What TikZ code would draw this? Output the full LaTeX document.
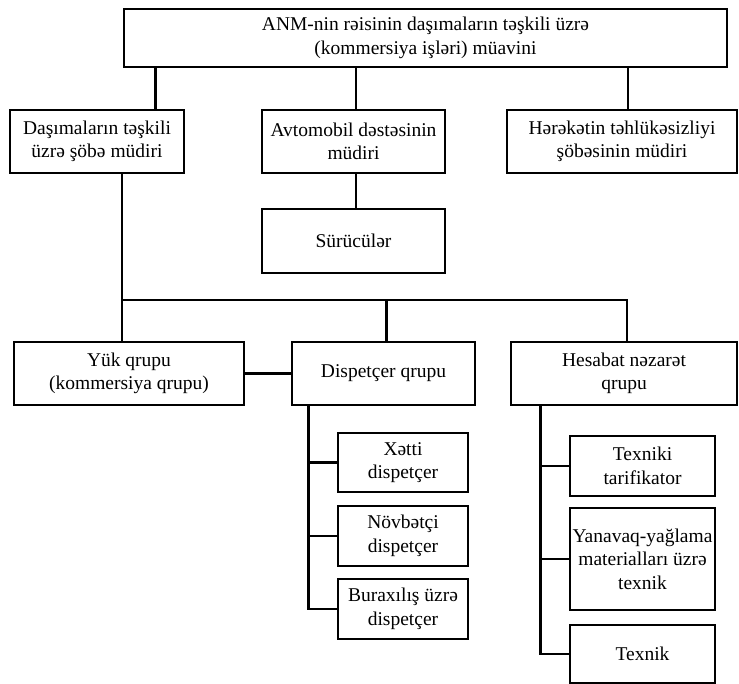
\documentclass[tikz,border=0pt]{standalone}
\usepackage{fontspec}
\setmainfont{Liberation Serif}
\newfontfamily\boxfont{Liberation Serif}
\begin{document}
\begin{tikzpicture}[x=1pt,y=-1pt,
  box/.style={draw, line width=2.2pt, align=center, inner sep=0pt, font=\boxfont\fontsize{19.5}{23.5}\selectfont},
  conn/.style={line width=2.2pt}]
\useasboundingbox (0,0) rectangle (739,684);
% boxes
\node[box, minimum width=603pt, minimum height=58pt] (top) at (425.5,38) {ANM-nin rəisinin daşımaların təşkili üzrə\\(kommersiya işləri) müavini};
\node[box, minimum width=174pt, minimum height=63pt] (dasi) at (97,141.5) {Daşımaların təşkili\\üzrə şöbə müdiri};
\node[box, minimum width=183pt, minimum height=63pt] (avto) at (353.5,141.5) {Avtomobil dəstəsinin\\müdiri};
\node[box, minimum width=230pt, minimum height=63pt] (here) at (622,141.5) {Hərəkətin təhlükəsizliyi\\şöbəsinin müdiri};
\node[box, minimum width=183pt, minimum height=64pt] (suru) at (353.5,241) {Sürücülər};
\node[box, minimum width=230pt, minimum height=63pt] (yuk) at (129,373.5) {Yük qrupu\\(kommersiya qrupu)};
\node[box, minimum width=183pt, minimum height=63pt] (disp) at (383.5,373.5) {Dispetçer qrupu};
\node[box, minimum width=226pt, minimum height=63pt] (hes) at (624,373.5) {Hesabat nəzarət\\qrupu};
\node[box, minimum width=130pt, minimum height=59pt] (xetti) at (403,462.5) {Xətti\\dispetçer};
\node[box, minimum width=130pt, minimum height=60pt] (novb) at (403,536) {Növbətçi\\dispetçer};
\node[box, minimum width=130pt, minimum height=60pt] (bura) at (403,609) {Buraxılış üzrə\\dispetçer};
\node[box, minimum width=145pt, minimum height=60pt] (texniki) at (642.5,466) {Texniki\\tarifikator};
\node[box, minimum width=145pt, minimum height=102pt] (yana) at (642.5,559) {Yanavaq-yağlama\\materialları üzrə\\texnik};
\node[box, minimum width=145pt, minimum height=58pt] (texnik) at (642.5,654) {Texnik};
% connectors from top
\draw[conn] (155.5,0 |- top.south) -- (155.5,0 |- dasi.north);
\draw[conn] (356,0 |- top.south) -- (356,0 |- avto.north);
\draw[conn] (628,0 |- top.south) -- (628,0 |- here.north);
\draw[conn] (356,0 |- avto.south) -- (356,0 |- suru.north);
% bus
\coordinate (busL) at (122,300);
\coordinate (busM) at (386.5,300);
\coordinate (busR) at (627,300);
\draw[conn] (122,0 |- dasi.south) -- (busL) -- (busR) -- (627,0 |- hes.north);
\draw[conn] (busL) -- (122,0 |- yuk.north);
\draw[conn] (busM) -- (386.5,0 |- disp.north);
\draw[conn] (yuk.east) -- (disp.west);
% dispatcher branch
\draw[conn] (308.5,0 |- disp.south) -- (308.5,0 |- bura.west) -- (bura.west);
\draw[conn] (308.5,0 |- xetti.west) -- (xetti.west);
\draw[conn] (308.5,0 |- novb.west) -- (novb.west);
% hesabat branch
\draw[conn] (540.5,0 |- hes.south) -- (540.5,0 |- texnik.west) -- (texnik.west);
\draw[conn] (540.5,0 |- texniki.west) -- (texniki.west);
\draw[conn] (540.5,0 |- yana.west) -- (yana.west);
\end{tikzpicture}
\end{document}
